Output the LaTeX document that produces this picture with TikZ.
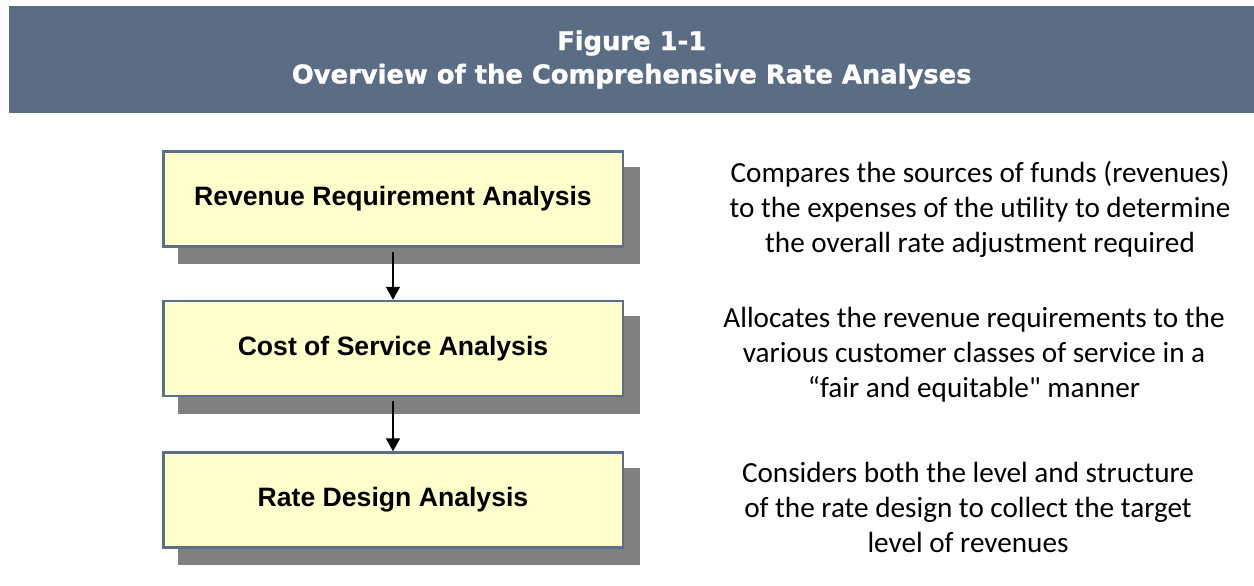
\documentclass[tikz,border=0pt]{standalone}
\usepackage{fontspec}
\setmainfont{Carlito}[Ligatures=TeXOff]
\newfontfamily\arialfont{Liberation Sans}
\newfontfamily\headfont{DejaVu Sans}[FakeBold=1.2]
\usetikzlibrary{arrows.meta,shadows}
\definecolor{barblue}{HTML}{5A6D85}
\definecolor{boxedge}{HTML}{5B6F8A}
\definecolor{boxfill}{HTML}{FFFFCC}
\definecolor{shadowgray}{HTML}{808080}
\begin{document}
\begin{tikzpicture}[x=1pt,y=-1pt,
  stage/.style={draw=boxedge, line width=2.5pt, fill=boxfill,
    minimum width=459.5pt, minimum height=95pt, inner sep=0pt,
    font=\arialfont\bfseries\fontsize{26.6}{32}\selectfont,
    drop shadow={shadow xshift=15.5pt, shadow yshift=-16.5pt,
      fill=shadowgray, draw=shadowgray, opacity=1}},
  note/.style={align=center, inner sep=0pt, anchor=base,
    font=\fontsize{29.2}{35}\selectfont},
  flow/.style={-{Triangle[width=14pt,length=13pt]}, line width=1.5pt}]
\useasboundingbox (0,0) rectangle (1254,586);

% heading bar
\node[fill=barblue, text=white, anchor=north west, inner sep=0pt,
  minimum width=1245pt, minimum height=107pt, align=center,
  font=\headfont\bfseries\fontsize{25.8}{33.3}\selectfont]
  (title) at (9,6) {Figure 1-1\\Overview of the Comprehensive Rate Analyses};

% analysis stages
\node[stage] (rra) at (393,199)   {Revenue Requirement Analysis};
\node[stage] (cos) at (393,348.5) {Cost of Service Analysis};
\node[stage] (rda) at (393,500)   {Rate Design Analysis};

\draw[flow] ([yshift=-4pt]rra.south) -- (cos.north);
\draw[flow] ([yshift=-4pt]cos.south) -- (rda.north);

% descriptions (anchored at the baseline of their last line)
\node[note] (d1) at (980,252) {Compares the sources of funds (revenues)\\to the expenses of the utility to determine\\the overall rate adjustment required};
\node[note] (d2) at (974,397) {Allocates the revenue requirements to the\\various customer classes of service in a\\“fair and equitable" manner};
\node[note] (d3) at (968,552) {Considers both the level and structure\\of the rate design to collect the target\\level of revenues};
\end{tikzpicture}
\end{document}
